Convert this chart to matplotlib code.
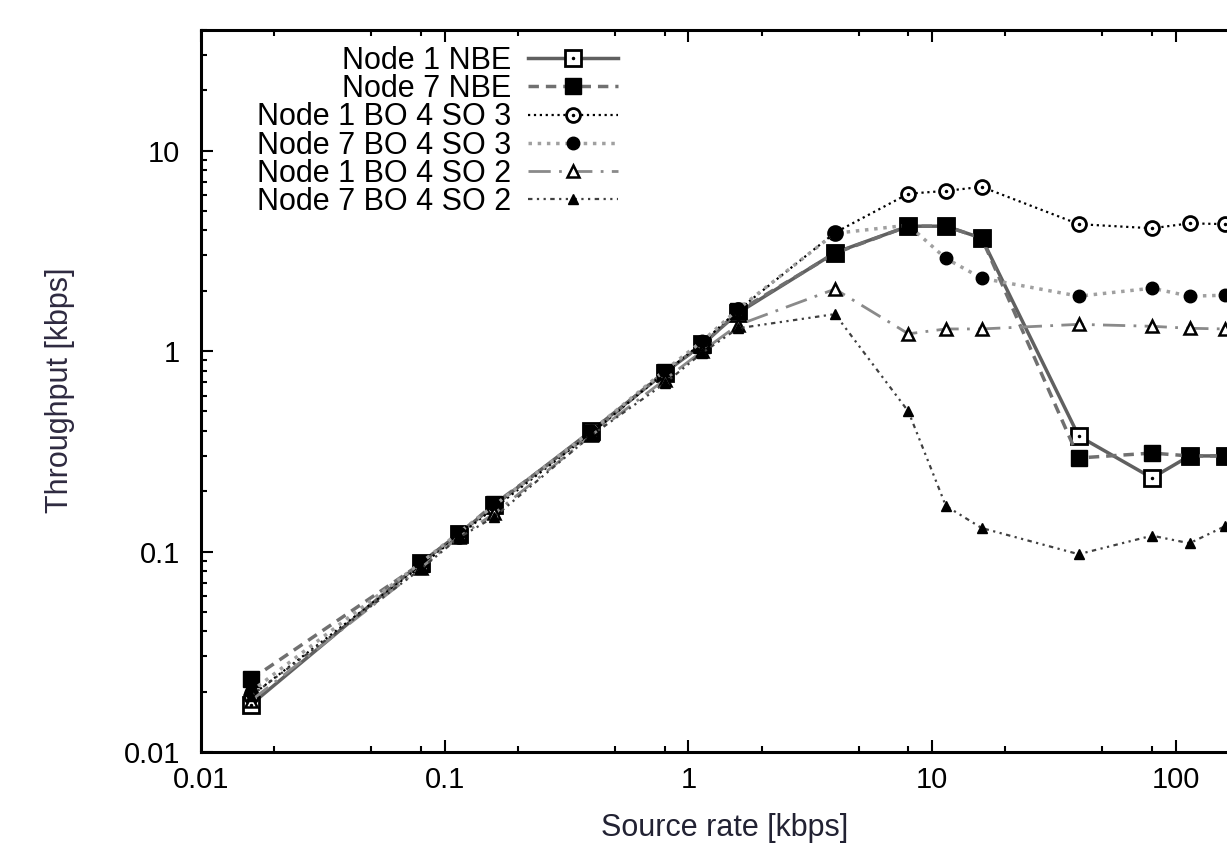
import matplotlib
matplotlib.use('Agg')
import matplotlib.pyplot as plt
from matplotlib.ticker import LogLocator, FixedLocator, FixedFormatter, NullFormatter
from matplotlib.legend_handler import HandlerTuple

plt.rcParams['font.family'] = ['Liberation Sans', 'DejaVu Sans']

# source rate [kbps]
rate = [0.016, 0.08, 0.114, 0.16, 0.4, 0.8, 1.14, 1.6, 4, 8, 11.4, 16, 40, 80, 114, 160]

# throughput [kbps]
n1_nbe = [0.0172, 0.088, 0.122, 0.17, 0.40, 0.78, 1.08, 1.55, 3.1, 4.2, 4.2, 3.66, 0.377, 0.233, 0.30, 0.30]
n7_nbe = [0.023, 0.087, 0.122, 0.173, 0.39, 0.79, 1.07, 1.58, 3.08, 4.2, 4.2, 3.66, 0.293, 0.31, 0.30, 0.30]
n1_so3 = [0.019, 0.085, 0.12, 0.165, 0.39, 0.78, 1.1, 1.6, 3.9, 6.1, 6.3, 6.6, 4.3, 4.1, 4.34, 4.3]
n7_so3 = [0.02, 0.088, 0.124, 0.17, 0.40, 0.80, 1.12, 1.62, 3.87, 4.25, 2.9, 2.31, 1.88, 2.06, 1.88, 1.9]
n1_so2 = [0.018, 0.083, 0.118, 0.155, 0.38, 0.72, 1.0, 1.35, 2.04, 1.22, 1.29, 1.29, 1.36, 1.33, 1.30, 1.29]
n7_so2 = [0.019, 0.082, 0.117, 0.149, 0.38, 0.69, 0.98, 1.30, 1.53, 0.50, 0.169, 0.131, 0.097, 0.12, 0.11, 0.134]

labels = ['Node 1 NBE', 'Node 7 NBE', 'Node 1 BO 4 SO 3',
          'Node 7 BO 4 SO 3', 'Node 1 BO 4 SO 2', 'Node 7 BO 4 SO 2']

xticks = [0.01, 0.1, 1, 10, 100]
xticklabels = ['0.01', '0.1', '1', '10', '100']
yticks = [0.01, 0.1, 1, 10]
yticklabels = ['0.01', '0.1', '1', '10']

fs = 21
lfs = 22

fig = plt.figure(figsize=(12.27, 8.65), dpi=100)
# axes runs past the right edge of the picture (cropped like the original)
ax = fig.add_axes([201 / 1227, 113 / 865, 1048 / 1227, 722 / 865])
ax.set_xscale('log')
ax.set_yscale('log')

l1, = ax.plot(rate, n1_nbe, color='#606060', ls='-', lw=2.5, marker='s', ms=11,
              mfc='white', mec='black', mew=2, zorder=3)
d1, = ax.plot(rate, n1_nbe, ls='none', marker='.', ms=3, color='black', zorder=4)
l2, = ax.plot(rate, n7_nbe, color='#707070', ls=(0, (3, 2)), lw=2.5, marker='s', ms=12,
              mfc='black', mec='black', zorder=3)
l3, = ax.plot(rate, n1_so3, color='black', ls=':', lw=1.6, marker='o', ms=10,
              mfc='white', mec='black', mew=2, zorder=3)
d3, = ax.plot(rate, n1_so3, ls='none', marker='.', ms=3, color='black', zorder=4)
l4, = ax.plot(rate, n7_so3, color='#a0a0a0', ls=':', lw=2.5, marker='o', ms=9,
              mfc='black', mec='black', zorder=3)
l5, = ax.plot(rate, n1_so2, color='#8a8a8a', ls=(0, (8, 3, 1, 3)), lw=2, marker='^', ms=9,
              mfc='white', mec='black', mew=1.8, zorder=3)
l6, = ax.plot(rate, n7_so2, color='#404040', ls=(0, (2, 2, 1, 2, 1, 2)), lw=1.6, marker='^', ms=7,
              mfc='black', mec='black', zorder=3)

ax.set_xlim(0.01, 200)
ax.set_ylim(0.01, 40)

ax.xaxis.set_major_locator(FixedLocator(xticks))
ax.xaxis.set_major_formatter(FixedFormatter(xticklabels))
ax.xaxis.set_minor_locator(LogLocator(base=10, subs=(2, 5, 8)))
ax.xaxis.set_minor_formatter(NullFormatter())
ax.yaxis.set_major_locator(FixedLocator(yticks))
ax.yaxis.set_major_formatter(FixedFormatter(yticklabels))
ax.yaxis.set_minor_locator(LogLocator(base=10, subs=(2, 3, 4, 5, 6, 7, 8, 9)))
ax.yaxis.set_minor_formatter(NullFormatter())

ax.tick_params(which='both', direction='in', top=True, right=True, width=1.5, colors='black')
ax.tick_params(which='major', length=8.5)
ax.tick_params(which='minor', length=4)
ax.tick_params(axis='x', which='major', labelsize=fs, pad=10)
ax.tick_params(axis='y', which='major', labelsize=fs, pad=15)
for s in ax.spines.values():
    s.set_linewidth(2.2)

ax.set_xlabel('Source rate [kbps]', fontsize=lfs, color='#222233', va='center')
ax.set_ylabel('Throughput [kbps]', fontsize=lfs, color='#2e2a40', va='center')
ax.xaxis.set_label_coords(524 / 1048, -76 / 722)
ax.yaxis.set_label_coords(-141 / 1048, 362 / 722)

leg = ax.legend([(l1, d1), l2, (l3, d3), l4, l5, l6], labels,
                handler_map={tuple: HandlerTuple(ndivide=1)},
                markerfirst=False, frameon=False, loc='upper right',
                bbox_to_anchor=(417 / 1048, 1 - 16 / 722), borderaxespad=0, borderpad=0,
                fontsize=lfs, handlelength=2.95, handletextpad=0.55, labelspacing=-0.06,
                numpoints=1)

fig.savefig('out.png', dpi=100)
